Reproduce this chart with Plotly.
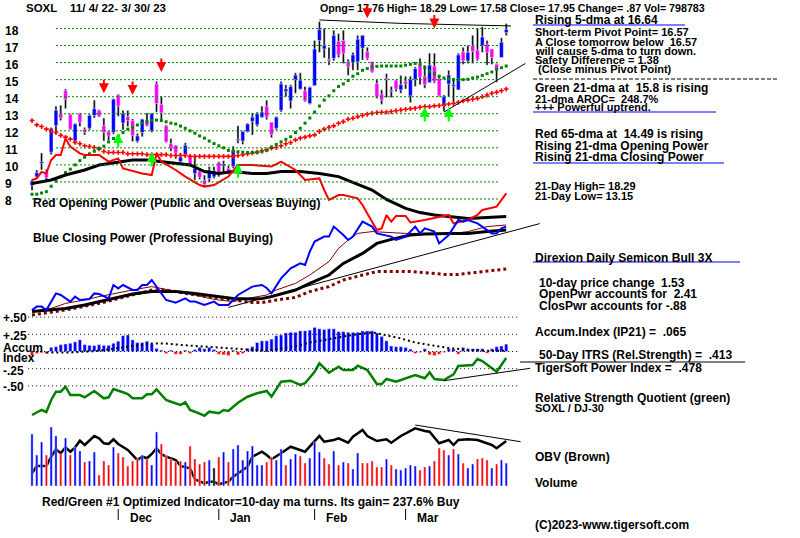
import plotly.graph_objects as go

# ---------------- data ----------------
opens = [8.8, 9.3, 10.1, 9.6, 10.75, 12.3, 13.0, 14.35, 12.95, 11.4,
         13.0, 12.1, 12.15, 12.9, 13.2, 12.3, 11.95, 11.9, 14.1, 12.45,
         12.83, 12.6, 11.4, 11.9, 12.55, 12.0, 14.75, 13.55, 12.3, 11.25,
         11.15, 10.2, 10.6, 10.5, 9.5, 9.6, 9.1, 9.2, 9.3, 10.15,
         9.95, 9.8, 9.9, 11.45, 11.4, 11.95, 12.55, 12.35, 12.8, 13.45,
         12.5, 12.15, 13.2, 14.3, 13.75, 15.0, 14.45, 14.35, 13.6, 14.65,
         17.3, 16.8, 16.2, 16.25, 17.25, 17.3, 16.05, 16.0, 16.05, 16.85,
         16.65, 16.05, 14.78, 14.15, 15.1, 14.3, 14.97, 14.4, 14.9, 14.05,
         15.0, 15.85, 15.2, 14.85, 15.8, 15.05, 13.45, 14.75, 14.6, 14.4,
         16.63, 16.1, 17.0, 16.73, 17.0, 17.08, 16.8, 15.9, 16.3, 17.76]
highs = [9.15, 9.7, 10.7, 9.75, 12.2, 13.45, 13.5, 14.45, 13.0, 12.45,
         13.05, 12.2, 12.98, 13.8, 13.25, 12.75, 12.0, 13.9, 14.15, 13.2,
         13.2, 12.7, 11.85, 12.7, 13.05, 13.05, 14.9, 14.0, 12.35, 11.55,
         11.15, 10.7, 11.3, 10.6, 10.5, 9.8, 9.4, 9.9, 9.9, 10.2,
         10.25, 9.95, 11.1, 12.3, 12.0, 12.45, 13.05, 13.1, 13.45, 13.8,
         12.5, 12.85, 14.9, 14.7, 14.7, 15.4, 15.4, 14.6, 14.6, 17.3,
         18.4, 18.0, 16.9, 17.9, 17.7, 17.9, 16.2, 16.6, 17.6, 17.62,
         16.9, 16.05, 15.0, 14.4, 15.35, 14.6, 15.0, 15.25, 15.2, 15.2,
         15.75, 16.25, 15.85, 16.55, 16.55, 15.27, 14.1, 15.55, 15.1, 16.55,
         16.9, 17.0, 17.6, 18.0, 18.1, 17.3, 16.8, 15.95, 17.45, 18.29]
lows = [8.5, 9.2, 9.7, 9.1, 10.6, 11.85, 12.6, 13.3, 12.05, 11.3,
        12.25, 11.75, 12.05, 12.75, 12.8, 11.4, 11.45, 11.8, 12.85, 12.05,
        12.25, 11.37, 11.3, 11.65, 12.25, 11.9, 13.1, 12.55, 11.3, 10.8,
        10.35, 10.1, 10.5, 9.9, 9.1, 9.15, 8.75, 9.0, 9.2, 9.3,
        9.5, 9.45, 9.8, 11.27, 11.2, 11.9, 11.75, 12.25, 12.75, 12.65,
        11.6, 12.05, 13.1, 14.0, 13.3, 14.2, 14.4, 13.7, 13.55, 14.65,
        16.6, 16.27, 15.85, 16.1, 16.3, 15.95, 15.25, 15.55, 15.55, 16.15,
        16.15, 15.4, 13.9, 13.55, 13.95, 13.95, 14.3, 14.2, 14.45, 13.65,
        14.6, 14.7, 14.5, 14.8, 14.8, 14.0, 13.15, 14.0, 13.6, 14.4,
        15.9, 15.95, 15.95, 16.1, 16.6, 15.85, 15.9, 14.85, 16.3, 17.58]
closes = [9.05, 9.55, 10.2, 9.25, 12.15, 13.2, 12.75, 13.85, 12.1, 12.4,
          12.5, 11.9, 12.9, 13.3, 12.85, 11.9, 11.7, 13.85, 13.45, 13.0,
          12.6, 11.72, 11.7, 12.68, 12.3, 13.0, 13.6, 13.05, 11.35, 11.0,
          10.7, 10.45, 11.15, 10.0, 9.8, 9.27, 8.85, 9.7, 9.65, 9.45,
          10.05, 9.5, 10.85, 11.5, 11.95, 12.4, 12.8, 13.0, 13.1, 12.8,
          11.77, 12.8, 14.75, 14.45, 14.6, 15.27, 14.97, 13.75, 14.55, 16.8,
          17.95, 17.0, 16.1, 17.6, 16.45, 16.55, 15.75, 16.45, 17.37, 17.6,
          16.25, 15.45, 14.0, 13.8, 15.0, 14.35, 14.45, 14.7, 14.75, 15.0,
          15.65, 15.15, 14.7, 15.85, 14.9, 14.05, 14.0, 15.27, 14.7, 16.45,
          16.1, 16.6, 16.65, 16.2, 17.5, 16.6, 16.3, 15.6, 17.2, 17.95]

dma65 = [12.6, 12.35, 12.25, 12.1, 12.0, 11.9, 11.73, 11.63, 11.51, 11.32,
         11.24, 11.12, 11.08, 11.02, 10.94, 10.79, 10.73, 10.73, 10.73, 10.73,
         10.65, 10.65, 10.65, 10.65, 10.6, 10.6, 10.6, 10.6, 10.6, 10.55,
         10.55, 10.55, 10.55, 10.5, 10.5, 10.5, 10.5, 10.5, 10.5, 10.5,
         10.5, 10.5, 10.5, 10.55, 10.6, 10.65, 10.7, 10.75, 10.83, 10.88,
         10.98, 11.02, 11.12, 11.24, 11.31, 11.47, 11.57, 11.63, 11.7, 11.76,
         11.96, 12.1, 12.2, 12.29, 12.44, 12.54, 12.68, 12.74, 12.83, 12.9,
         12.97, 13.03, 13.07, 13.09, 13.1, 13.13, 13.18, 13.22, 13.26, 13.3,
         13.32, 13.38, 13.42, 13.42, 13.46, 13.48, 13.52, 13.57, 13.6, 13.67,
         13.75, 13.8, 13.85, 13.9, 14.0, 14.1, 14.2, 14.26, 14.35, 14.45]
dma21 = [8.28, 8.28, 8.35, 8.43, 8.75, 9.05, 9.3, 9.55, 9.75, 10.0,
         10.25, 10.45, 10.65, 10.8, 10.97, 11.1, 11.35, 11.55, 11.7, 11.9,
         12.1, 12.2, 12.34, 12.45, 12.55, 12.6, 12.63, 12.6, 12.53, 12.45,
         12.4, 12.28, 12.15, 12.0, 11.86, 11.7, 11.57, 11.4, 11.25, 11.12,
         11.0, 10.85, 10.8, 10.77, 10.75, 10.73, 10.73, 10.73, 10.77, 10.85,
         11.05, 11.2, 11.35, 11.5, 11.65, 11.9, 12.15, 12.45, 12.75, 13.1,
         13.45, 13.8, 14.05, 14.35, 14.6, 14.75, 14.95, 15.2, 15.35, 15.55,
         15.65, 15.75, 15.78, 15.8, 15.8, 15.8, 15.8, 15.8, 15.85, 15.9,
         15.95, 15.9, 15.7, 15.5, 15.35, 15.2, 15.1, 15.05, 15.0, 15.0,
         15.0, 15.02, 15.1, 15.15, 15.25, 15.35, 15.45, 15.6, 15.7, 15.8]

# volume in thousands of shares, and direction vs prior close (u/d/n)
volume_k = [1820, 1085, 1540, 1085, 2065, 1750, 1120, 1680, 1085, 1365,
            1225, 840, 875, 1190, 385, 875, 735, 1365, 1155, 1015,
            700, 875, 945, 1085, 945, 735, 1890, 1470, 1085, 945,
            840, 875, 840, 1400, 945, 770, 840, 910, 630, 1015,
            1190, 840, 1295, 1435, 910, 1225, 1400, 735, 735, 840,
            1015, 910, 1295, 735, 945, 1120, 1050, 805, 980, 1540,
            1190, 980, 770, 1225, 735, 840, 805, 595, 1155, 805,
            805, 875, 665, 665, 945, 735, 595, 560, 630, 735,
            700, 560, 665, 700, 875, 1330, 1260, 1085, 1295, 1120,
            805, 630, 770, 945, 980, 910, 630, 770, 910, 799]
volume_dir = list("uuuduududu" "uduudddudd" "ddduduuddd" "dduddddund" "uduuuuuuud"
                  "duuduudduu" "uddududuud" "dddduduuuu" "uddudddudu" "duuddduduu")

accum_ip21 = [-0.06, -0.03, -0.02, -0.03, 0.06, 0.07, 0.10, 0.11, 0.12, 0.14,
              0.17, 0.10, 0.09, 0.085, 0.10, 0.09, 0.09, 0.12, 0.15, 0.23,
              0.24, 0.17, 0.13, 0.13, 0.15, 0.11, 0.045, 0.02, -0.03, 0.02,
              -0.04, -0.04, 0.02, -0.03, 0.03, 0.06, 0.04, 0.06, 0.03, -0.04,
              -0.05, -0.06, 0.02, -0.05, -0.03, 0.045, 0.07, 0.13, 0.155, 0.155,
              0.18, 0.23, 0.24, 0.27, 0.28, 0.28, 0.30, 0.30, 0.31, 0.35,
              0.33, 0.32, 0.33, 0.33, 0.29, 0.29, 0.28, 0.28, 0.28, 0.30,
              0.30, 0.30, 0.27, 0.22, 0.155, 0.08, 0.07, 0.07, 0.06, 0.035,
              -0.03, -0.015, 0.04, -0.05, -0.06, -0.04, -0.015, 0.04, 0.035, -0.04,
              0.06, 0.04, 0.04, 0.04, 0.04, -0.025, 0.04, 0.07, 0.08, 0.107]
accum_ma = [(3, -0.015), (8, -0.015), (14, 0.01), (18, 0.044), (21, 0.08), (25, 0.116),
            (28, 0.116), (32, 0.09), (36, 0.073), (41, 0.044), (45, 0.024), (49, 0.01),
            (55, 0.08), (58, 0.13), (62, 0.18), (66, 0.23), (71, 0.28), (73, 0.25),
            (77, 0.19), (80, 0.13), (84, 0.08), (87, 0.05), (91, 0.024), (95, 0.01), (99, 0.01)]

# opening / closing power panel (arbitrary power units), read as (day, value)
open_power = [(0, 70), (1, 70.8), (2, 74), (3, 73.3), (4, 80), (5, 82.5), (6, 82.5), (7, 90.8),
              (8, 86.7), (10, 83.3), (11, 82.5), (14, 82.5), (16, 79.2), (18, 80.8), (19, 75.8),
              (23, 73.3), (25, 72.5), (26, 83.3), (27, 79.2), (30, 75), (32, 71.7), (35, 67.5),
              (36, 66.7), (38, 67.5), (41, 71.7), (43, 77.5), (46, 77.5), (50, 76.7), (52, 79.2),
              (55, 75), (57, 70), (60, 70.8), (61, 65), (62, 60), (64, 62.5), (65, 62.5),
              (68, 60.8), (69, 57.5), (70, 53.3), (71, 49.2), (72, 45), (73, 45.8), (74, 52.5),
              (75, 49.2), (76, 52), (78, 52), (79, 48.8), (82, 50), (85, 51.7), (87, 52.5),
              (88, 48.3), (91, 50), (93, 52.5), (94, 55), (97, 56.7), (98, 60), (99, 63.3)]
close_power = [(0, 5), (1, 6.7), (2, 6.7), (3, 5), (5, 13.3), (6, 12.5), (8, 9.2), (9, 11.7),
               (10, 10), (12, 10.5), (13, 13.3), (14, 13), (16, 10.8), (17, 17.5), (18, 15.8),
               (19, 17.5), (21, 15), (22, 15), (23, 17.5), (24, 17.5), (25, 20), (26, 16.7),
               (27, 13.3), (28, 10), (30, 8.7), (32, 10.8), (33, 9.2), (34, 9.2), (36, 7.5),
               (37, 8.3), (38, 9.2), (39, 7.5), (41, 7.5), (43, 12.5), (46, 16.7), (48, 17.5),
               (49, 16), (50, 13.3), (52, 20.8), (54, 25.8), (56, 28.3), (57, 27.5), (58, 34.2),
               (59, 39.2), (61, 41.7), (62, 41.7), (63, 46.7), (65, 42.5), (66, 40), (67, 41.7),
               (68, 45.8), (69, 49.2), (71, 46.7), (72, 43.3), (75, 41.7), (76, 40), (78, 41.7),
               (80, 46.7), (81, 43.3), (82, 45.8), (84, 44.2), (85, 38.3), (87, 42.5), (89, 50),
               (90, 49.2), (91, 50), (93, 48.3), (94, 46.7), (96, 43.3), (97, 43.3), (98, 45.8),
               (99, 46.7)]
op_ma21 = [(0, 68.3), (4, 70), (7, 72.5), (11, 75), (14, 77.5), (17, 78.7), (21, 80), (24, 80),
           (27, 79.2), (30, 78.3), (33, 77.5), (36, 74.2), (39, 73.3), (42, 74.2), (46, 73.3),
           (49, 73.3), (52, 74.2), (56, 74.2), (60, 73.3), (64, 71.7), (67, 68.7), (71, 65),
           (74, 60.3), (75, 59.2), (78, 55.8), (81, 53.7), (84, 52.5), (87, 51.7), (91, 50.8),
           (95, 51.3), (99, 51.7)]
cp_ma21 = [(0, 4.2), (7, 5.8), (11, 7.5), (14, 9.2), (18, 11.3), (21, 13), (25, 14.2), (30, 14.2),
           (34, 13.3), (39, 11.7), (42, 10.8), (46, 10.5), (48, 10.8), (50, 11.7), (55, 15),
           (58, 18.3), (62, 22.5), (65, 28.3), (69, 33.3), (72, 38.3), (75, 40.3), (79, 42.5),
           (82, 43), (87, 43.3), (91, 43.3), (95, 44.2), (99, 45)]
cp_ma10 = [(0, 4.2), (4, 5.8), (7, 8.3), (11, 10), (14, 11.7), (18, 13.7), (21, 15), (25, 16.7),
           (28, 15.3), (31, 14.2), (34, 12.5), (37, 10.8), (39, 10), (42, 9.2), (45, 10.8),
           (49, 12.5), (51, 15), (55, 18.3), (58, 22.5), (62, 29.2), (64, 35.8), (66, 40),
           (68, 43.3), (71, 44.2), (78, 43.3), (82, 43.3), (87, 43), (91, 44.2), (95, 46.7),
           (99, 47.5)]
cp_ma50 = [(0, 2.5), (7, 5), (14, 8.3), (18, 10.8), (21, 12.5), (25, 15), (28, 15), (32, 13.3),
           (37, 11.7), (42, 10), (46, 8.7), (48, 8.7), (51, 10), (55, 11.3), (58, 14.2),
           (62, 16.7), (65, 20), (69, 22.5), (72, 24.2), (75, 24.2), (79, 24.2), (82, 23.7),
           (86, 22.8), (89, 22.8), (93, 23.7), (96, 24.7), (99, 25.5)]

rs_quotient = [(0, 1.5), (1, 1.73), (2, 2.0), (3, 1.8), (4, 3.0), (5, 3.83), (6, 3.83), (7, 4.33),
               (8, 3.5), (10, 3.5), (11, 3.27), (13, 3.9), (15, 3.17), (16, 3.27), (17, 4.1),
               (19, 3.77), (20, 3.6), (21, 3.17), (23, 3.17), (24, 3.57), (25, 3.57), (26, 4.07),
               (28, 3.0), (29, 2.83), (31, 2.5), (32, 2.77), (33, 2.0), (34, 1.83), (36, 1.43),
               (37, 1.83), (39, 1.67), (40, 2.0), (41, 1.9), (43, 2.73), (45, 3.33), (47, 3.67),
               (49, 3.9), (50, 3.33), (52, 4.83), (54, 4.93), (56, 4.5), (57, 4.67), (59, 5.83),
               (60, 6.67), (61, 6.17), (62, 5.73), (64, 6.33), (65, 6.0), (67, 6.0), (68, 6.43),
               (70, 6.0), (72, 4.6), (73, 4.6), (74, 5.1), (76, 4.83), (78, 5.17), (80, 5.5),
               (82, 5.17), (83, 5.77), (84, 5.1), (86, 5.0), (88, 5.57), (89, 6.4), (92, 6.5),
               (93, 7.1), (94, 6.9), (96, 6.17), (97, 5.83), (99, 7.2)]
obv = [(0, 267), (1, 340), (3, 340), (4, 433), (5, 507), (6, 467), (7, 527), (8, 483), (9, 527),
       (10, 593), (11, 550), (13, 640), (14, 617), (15, 567), (16, 560), (17, 607), (18, 560),
       (20, 500), (22, 400), (23, 433), (24, 417), (25, 460), (26, 517), (27, 460), (28, 433),
       (30, 400), (31, 340), (33, 317), (34, 207), (36, 167), (37, 183), (38, 183), (39, 157),
       (41, 183), (42, 233), (43, 267), (45, 333), (46, 433), (48, 483), (49, 450), (50, 407),
       (52, 467), (53, 500), (54, 533), (57, 483), (59, 583), (60, 640), (61, 583), (63, 600),
       (64, 617), (66, 573), (67, 633), (69, 700), (70, 640), (72, 590), (74, 607), (75, 573),
       (77, 640), (80, 717), (82, 690), (83, 683), (85, 567), (87, 600), (88, 550), (89, 600),
       (91, 607), (93, 600), (96, 550), (97, 517), (99, 590)]

# trendlines drawn on the chart (day, value) end points
price_top_line = [(60, 18.5), (77, 18.3), (100, 18.15)]
price_up_line = [(86, 13.1), (103, 15.95)]
power_line = [(41, 6.3), (106, 48.2)]
rs_line = [(86, 4.93), (104, 6.17)]
obv_line = [(80, 750), (102, 583)]

sell_days = [15, 21, 27, 70, 84]
sell_tips = [14.2, 14.1, 15.45, 18.6, 18.0]
buy_days = [18, 25, 43, 82, 87]
buy_tips = [11.87, 10.75, 10.1, 13.4, 13.4]

month_days = [18, 39, 59, 78]
month_names = ["Dec", "Jan", "Feb", "Mar"]

# ---------------- layout helpers ----------------
W, H = 800, 538
PX0, PXD = 32, 4.79          # pixel of first bar, pixels per bar
days = list(range(len(closes)))
FONT = "Liberation Sans, Arial, sans-serif"


def span(v1, p1, v2, p2):
    s = (v2 - v1) / (p2 - p1)
    return [v1 + (H - p1) * s, v1 - p1 * s]


def unzip(pts):
    return [p[0] for p in pts], [p[1] for p in pts]


def line(pts, axis, color, width, dash=None):
    x, y = unzip(pts)
    return go.Scatter(x=x, y=y, yaxis=axis, mode="lines",
                      line=dict(color=color, width=width, dash=dash), hoverinfo="skip")


BLUE, MAG, RED, GRN = "#0000ff", "#ff00ff", "#ff0000", "#008000"

fig = go.Figure()

# price candles: black high-low wick with coloured body
fig.add_trace(go.Bar(x=days, y=[h - l for h, l in zip(highs, lows)], base=lows, width=0.42,
                     marker_color="black", yaxis="y"))
fig.add_trace(go.Bar(x=days, y=[max(abs(c - o), 0.07) for o, c in zip(opens, closes)],
                     base=[min(o, c) for o, c in zip(opens, closes)], width=0.78,
                     marker_color=[BLUE if c >= o else MAG for o, c in zip(opens, closes)],
                     yaxis="y"))
fig.add_trace(go.Scatter(x=days, y=dma65, mode="markers", yaxis="y",
                         marker=dict(symbol="cross", size=4, color=RED, line_width=0)))
fig.add_trace(go.Scatter(x=days, y=dma21, mode="markers", yaxis="y",
                         marker=dict(symbol="square", size=3, color=GRN, line_width=0)))
fig.add_trace(line(price_top_line, "y", "black", 1))
fig.add_trace(line(price_up_line, "y", "black", 1))

# opening / closing power
fig.add_trace(line(cp_ma50, "y2", "#800000", 3, "3px,3px"))
fig.add_trace(line(cp_ma10, "y2", "#800000", 1))
fig.add_trace(line(power_line, "y2", "black", 1))
fig.add_trace(line(op_ma21, "y2", "black", 3))
fig.add_trace(line(cp_ma21, "y2", "black", 3))
fig.add_trace(line(open_power, "y2", RED, 2))
fig.add_trace(line(close_power, "y2", BLUE, 2))

# accumulation index
fig.add_trace(go.Bar(x=days, y=accum_ip21, width=0.68, yaxis="y3",
                     marker_color=[BLUE if v >= 0 else RED for v in accum_ip21]))
fig.add_trace(line(accum_ma, "y3", "black", 2, "2px,3px"))

# relative strength quotient
fig.add_trace(line(rs_quotient, "y4", GRN, 2.5))
fig.add_trace(line(rs_line, "y4", "black", 1))

# volume and OBV
vcol = {"u": BLUE, "d": RED, "n": "black"}
fig.add_trace(go.Bar(x=days, y=volume_k, width=0.46, yaxis="y6",
                     marker_color=[vcol[d] for d in volume_dir]))
fig.add_trace(line(obv, "y5", "black", 2.5))
fig.add_trace(line(obv_line, "y5", "black", 1))

shapes = []
# green dotted price grid
for p in range(8, 19):
    shapes.append(dict(type="line", xref="x", yref="y", x0=0 if p == 8 else 5, x1=97.3,
                       y0=p, y1=p, line=dict(color=GRN, width=1, dash="2px,2px")))
# black dotted accumulation grid
for v in [0.5, 0.25, 0, -0.25, -0.5]:
    shapes.append(dict(type="line", xref="x", yref="y3", x0=-0.8, x1=101.5, y0=v, y1=v,
                       line=dict(color="black", width=1, dash="1px,3px")))
# month ticks
for d in month_days:
    shapes.append(dict(type="line", xref="x", yref="paper", x0=d, x1=d,
                       y0=1 - 520 / H, y1=1 - 509 / H, line=dict(color="black", width=1)))


def hline(x0, x1, y, color="blue", dash=None):
    shapes.append(dict(type="line", xref="paper", yref="paper", x0=x0 / W, x1=x1 / W,
                       y0=1 - y / H, y1=1 - y / H, line=dict(color=color, width=1, dash=dash)))


hline(533, 685, 25)
hline(533, 777, 79, "black", "4px,2px")
hline(533, 716, 112)
hline(533, 724, 163)
hline(533, 740, 262)
hline(520, 745, 362, "black")

ann = []


def txt(x, y, s, size=12):
    ann.append(dict(x=x / W, y=1 - y / H, xref="paper", yref="paper", text="<b>" + s + "</b>",
                    showarrow=False, xanchor="left", yanchor="middle",
                    font=dict(family=FONT, size=size, color="black")))


NB = "\u00a0"
txt(24, 8, "SOXL" + NB * 4 + "11/ 4/ 22- 3/ 30/ 23", 11.5)
txt(318, 8, "Opng= 17.76 High= 18.29 Low= 17.58 Close= 17.95 Change= .87 Vol= 798783", 10.7)

# tightly stacked lines on the right use a slightly smaller face
right = [(533, 20, "Rising 5-dma at 16.64", 12),
         (533, 32, "Short-term Pivot Point= 16.57", 11),
         (533, 42, "A Close tomorrow below" + NB + NB + "16.57", 11),
         (533, 51, "will cause 5-dma to turn down.", 11),
         (533, 60, "Safety Difference = 1.38", 11),
         (533, 69, NB + "(Close minus Pivot Point)", 11),
         (533, 88, "Green 21-dma at" + NB + NB + "15.8 is rising", 12),
         (533, 99, "21-dma AROC=" + NB + NB + "248.7%", 11),
         (533, 107, "+++ Powerful uptrend.", 11),
         (533, 134, "Red 65-dma at" + NB + NB + "14.49 is rising", 12),
         (533, 146, "Rising 21-dma Opening Power", 12),
         (533, 157, "Rising 21-dma Closing Power", 12),
         (533, 186, "21-Day High= 18.29", 11),
         (533, 196, "21-Day Low= 13.15", 11),
         (533, 258, "Direxion Daily Semicon Bull 3X", 12),
         (537, 283, "10-day price change" + NB + NB + "1.53", 12),
         (537, 294, "OpenPwr accounts for" + NB + NB + "2.41", 12),
         (537, 306, "ClosPwr accounts for -.88", 12),
         (533, 332, "Accum.Index (IP21) =" + NB + NB + ".065", 12),
         (537, 355, "50-Day ITRS (Rel.Strength) =" + NB + NB + ".413", 12),
         (533, 368, "TigerSoft Power Index =" + NB + NB + ".478", 12),
         (533, 398, "Relative Strength Quotient (green)", 12),
         (533, 408, "SOXL / DJ-30", 11),
         (533, 457, "OBV (Brown)", 12),
         (533, 483, "Volume", 12),
         (533, 525, "(C)2023-www.tigersoft.com", 12)]
for x, y, s, sz in right:
    txt(x, y, s, sz)

txt(31, 203, "Red Opening Power (Public and Overseas Buying)")
txt(31, 238, "Blue Closing Power (Professional Buying)")
for y, s in [(318, "+.50"), (336, "+.25"), (348, "Accum"), (358, "Index"),
             (371, "-.25"), (387, "-.50")]:
    txt(1, y, s)
txt(40, 502, "Red/Green #1 Optimized Indicator=10-day ma turns. Its gain= 237.6% Buy")

# price scale labels
for p in range(8, 19):
    ann.append(dict(x=3 / W, y=p, xref="paper", yref="y", yshift=-2, text="<b>%d</b>" % p,
                    showarrow=False, xanchor="left", yanchor="middle",
                    font=dict(family=FONT, size=12, color="black")))
# month labels
for d, m in zip(month_days, month_names):
    ann.append(dict(x=d + 2.0, y=1 - 518 / H, xref="x", yref="paper", text="<b>%s</b>" % m,
                    showarrow=False, xanchor="left", yanchor="middle",
                    font=dict(family=FONT, size=12, color="black")))
# signal arrows
for d, p in zip(sell_days, sell_tips):
    ann.append(dict(x=d, y=p, xref="x", yref="y", ax=0, ay=-15, text="", showarrow=True,
                    arrowhead=2, arrowsize=1, arrowwidth=2, arrowcolor=RED))
for d, p in zip(buy_days, buy_tips):
    ann.append(dict(x=d, y=p, xref="x", yref="y", ax=0, ay=16, text="", showarrow=True,
                    arrowhead=2, arrowsize=1, arrowwidth=2, arrowcolor="#00ff00"))

hidden = dict(visible=False, fixedrange=True)
fig.update_layout(
    width=W, height=H,
    margin=dict(l=0, r=0, t=0, b=0),
    paper_bgcolor="white", plot_bgcolor="white",
    showlegend=False, barmode="overlay", hovermode=False,
    xaxis=dict(range=[-PX0 / PXD, (W - PX0) / PXD], **hidden),
    yaxis=dict(range=span(18, 28.5, 8, 199), **hidden),
    yaxis2=dict(range=span(0, 320, 100, 120), overlaying="y", **hidden),
    yaxis3=dict(range=span(0, 351.5, 0.5, 317.1), overlaying="y", **hidden),
    yaxis4=dict(range=span(0, 430, 10, 330), overlaying="y", **hidden),
    yaxis5=dict(range=span(0, 500, 1000, 400), overlaying="y", **hidden),
    yaxis6=dict(range=span(0, 486, 3500, 386), overlaying="y", **hidden),
    shapes=shapes,
    annotations=ann,
)

# the page is shot at exactly the figure size, so drop the default body margin
fig.write_html("out.html", config={"displayModeBar": False},
               post_script="document.body.style.margin='0';"
                           "document.body.style.overflow='hidden';")
